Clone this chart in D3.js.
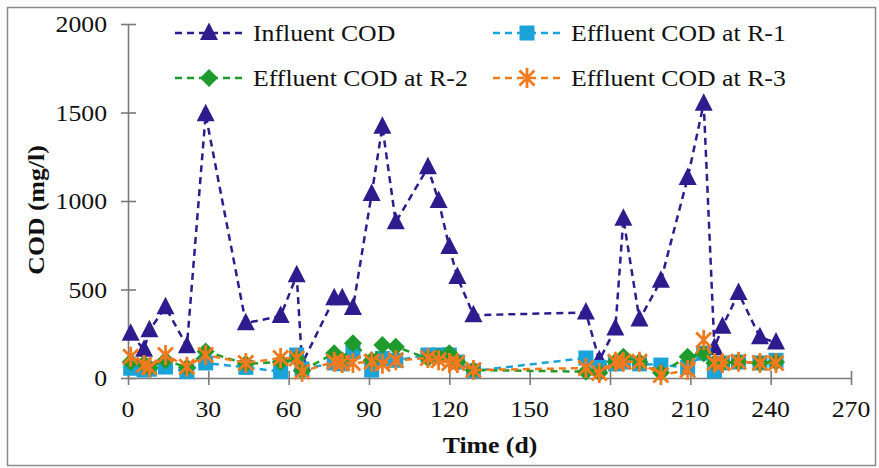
<!DOCTYPE html>
<html>
<head>
<meta charset="utf-8">
<script src="https://cdn.jsdelivr.net/npm/d3@7"></script>
<style>
  html, body { margin: 0; padding: 0; background: #ffffff; }
  svg { display: block; }
</style>
</head>
<body>
<svg id="chart" width="879" height="468"></svg>
<script>
// Sampling days and measured COD (mg/l)
const days = [1, 6, 8, 14, 22, 29, 44, 57, 63, 65, 77, 80, 84, 91, 95, 100, 112, 116, 120, 123, 129,
              171, 176, 182, 185, 191, 199, 209, 215, 219, 222, 228, 236, 242];
const influent = [250, 160, 270, 400, 180, 1490, 310, 350, 580, 80, 450, 450, 395, 1040, 1420, 880, 1190, 1000, 740, 570, 355,
                  370, 100, 280, 900, 330, 550, 1130, 1550, 170, 290, 480, 230, 200];
const effluentR1 = [55, 45, 50, 62, 36, 85, 60, 36, 130, 50, 85, 80, 150, 45, 110, 100, 130, 130, 130, 90, 40,
                    113, 60, 80, 90, 80, 73, 60, 140, 40, 85, 90, 85, 100];
const effluentR2 = [90, 80, 60, 100, 60, 150, 80, 90, 110, 40, 140, 100, 197, 100, 186, 177, 110, 120, 140, 90, 45,
                    36, 30, 92, 120, 92, 30, 120, 140, 85, 85, 92, 85, 90];
const effluentR3 = [120, 73, 60, 130, 64, 130, 85, 113, 110, 36, 92, 85, 85, 92, 80, 100, 113, 100, 85, 85, 45,
                    56, 28, 92, 92, 92, 17, 45, 215, 85, 85, 92, 85, 85];
const xTicks = [0, 30, 60, 90, 120, 150, 180, 210, 240, 270];
const yTicks = [0, 500, 1000, 1500, 2000];
const seriesNames = ["Influent COD", "Effluent COD at R-1", "Effluent COD at R-2", "Effluent COD at R-3"];

const svg = d3.select("#chart");
const W = 879, H = 468;
const FONT = "'Liberation Serif', 'Times New Roman', serif";
const SX = 1.12;   // slight horizontal stretch of the lettering

// outer frame
svg.append("rect").attr("x", 0).attr("y", 0).attr("width", W).attr("height", H).attr("fill", "#fbfbfb");
svg.append("rect").attr("x", 7.5).attr("y", 7.5).attr("width", 868).attr("height", 458)
  .attr("fill", "#ffffff").attr("stroke", "#8a8a8a").attr("stroke-width", 1.5);

const x = d3.scaleLinear().domain([0, 270]).range([128, 851]);
const y = d3.scaleLinear().domain([0, 2000]).range([378, 24]);

function label(g, tx, ty, text, opts = {}) {
  return g.append("text")
    .attr("transform", `translate(${tx},${ty}) ${opts.rotate ? "rotate(" + opts.rotate + ")" : ""} scale(${SX},1)`)
    .attr("font-family", FONT)
    .attr("font-size", opts.size || 23)
    .attr("font-weight", opts.bold ? "bold" : "normal")
    .attr("fill", "#111")
    .attr("text-anchor", opts.anchor || "start")
    .text(text);
}

// axes
const axisColor = "#7a7a7a";
const gx = svg.append("g").attr("transform", `translate(0,${y(0)})`)
  .call(d3.axisBottom(x).tickValues(xTicks).tickSize(0).tickFormat(""));
gx.select(".domain").attr("stroke", axisColor).attr("stroke-width", 1.6);
gx.selectAll(".tick").append("line").attr("y1", -7).attr("y2", 7)
  .attr("stroke", axisColor).attr("stroke-width", 1.6);

const gy = svg.append("g").attr("transform", `translate(${x(0)},0)`)
  .call(d3.axisLeft(y).tickValues(yTicks).tickSize(0).tickFormat(""));
gy.select(".domain").attr("stroke", axisColor).attr("stroke-width", 1.6);
gy.selectAll(".tick").append("line").attr("x1", -7).attr("x2", 8)
  .attr("stroke", axisColor).attr("stroke-width", 1.6);

const labels = svg.append("g");
xTicks.forEach(v => label(labels, x(v), 417, String(v), { anchor: "middle" }));
yTicks.forEach(v => label(labels, 107, y(v) + 8, String(v), { anchor: "end" }));
label(labels, 490, 453, "Time (d)", { anchor: "middle", bold: true });
label(labels, 44, 210, "COD (mg/l)", { anchor: "middle", bold: true, rotate: -90 });

// series styling
const colors = ["#2e1c8e", "#1aa3d9", "#1f9a2c", "#f27a1e"];
const shapes = ["triangle", "square", "diamond", "star"];

function drawMarker(g, shape, color) {
  if (shape === "triangle") {
    g.append("path").attr("d", "M0,-10.5 L9,7 L-9,7 Z").attr("fill", color);
  } else if (shape === "square") {
    g.append("rect").attr("x", -7.5).attr("y", -7.5).attr("width", 15).attr("height", 15).attr("fill", color);
  } else if (shape === "diamond") {
    g.append("path").attr("d", "M0,-9 L9,0 L0,9 L-9,0 Z").attr("fill", color);
  } else {
    g.append("path").attr("d", "M-7.5,-7.5 L7.5,7.5 M-7.5,7.5 L7.5,-7.5 M0,-10 L0,10")
      .attr("stroke", color).attr("stroke-width", 2.8).attr("fill", "none");
  }
}

const allSeries = [influent, effluentR1, effluentR2, effluentR3];
const line = d3.line().x(d => x(d[0])).y(d => y(d[1]));

allSeries.forEach((vals, i) => {
  const pts = days.map((d, k) => [d, vals[k]]);
  svg.append("path").datum(pts).attr("d", line)
    .attr("fill", "none").attr("stroke", colors[i])
    .attr("stroke-width", 2.5).attr("stroke-dasharray", "7,5");
  const mg = svg.append("g");
  pts.forEach(p => {
    const g = mg.append("g").attr("transform", `translate(${x(p[0])},${y(p[1])})`);
    drawMarker(g, shapes[i], colors[i]);
  });
});

// legend
const legendPos = [[175, 33], [493, 33], [175, 78], [493, 78]];
seriesNames.forEach((name, i) => {
  const [lx, ly] = legendPos[i];
  const g = svg.append("g");
  g.append("line").attr("x1", lx).attr("x2", lx + 68).attr("y1", ly).attr("y2", ly)
    .attr("stroke", colors[i]).attr("stroke-width", 2.5).attr("stroke-dasharray", "7,5");
  const m = g.append("g").attr("transform", `translate(${lx + 34},${ly})`);
  drawMarker(m, shapes[i], colors[i]);
  label(g, lx + 78, ly + 8, name);
});
</script>
</body>
</html>
